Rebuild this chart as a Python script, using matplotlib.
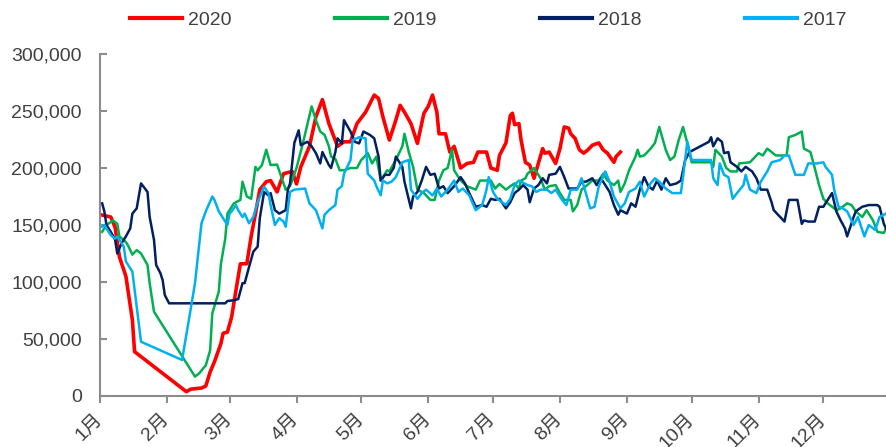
import matplotlib
matplotlib.use("Agg")
import matplotlib.pyplot as plt
from matplotlib.ticker import FuncFormatter

# x = day of year (0 = 1月1日), y = value in thousands
MONTH_LABELS = ["1月", "2月", "3月", "4月", "5月", "6月", "7月", "8月", "9月", "10月", "11月", "12月"]
MONTH_STARTS = [0, 31, 60, 91, 121, 152, 182, 213, 244, 274, 305, 335]

DAYS_2020 = [1, 5, 7, 9, 12, 15, 16, 40, 42, 47, 49, 51, 53, 56, 57, 59, 61, 62, 65, 68, 70, 72, 74, 77, 79, 82, 85, 89,
             91, 93, 97, 100, 103, 106, 108, 110, 113, 116, 119, 123, 127, 129, 131, 134, 137, 139, 141, 144, 147, 150,
             152, 154, 156, 157, 160, 162, 164, 167, 170, 173, 175, 179, 181, 184, 185, 188, 190, 191, 192, 194, 195,
             197, 199, 201, 203, 205, 206, 208, 211, 213, 215, 217, 218, 220, 222, 224, 226, 228, 231, 233, 235, 238,
             239, 241]
VALS_2020 = [158.7, 157, 148, 122, 105, 66.7, 38.9, 3.8, 6, 7, 8.8, 21, 30, 46, 55, 56, 69.6, 81.6, 116, 116, 140, 160,
             181, 188, 189, 179, 195, 197, 186, 201, 219, 245, 260, 239, 229, 219, 223, 223, 239, 249, 264, 261, 245,
             224.5, 242, 255, 249, 239, 221.6, 248, 254, 264, 249, 230, 230, 214, 219, 200, 204, 205, 214, 214, 200,
             198, 211, 222, 246, 248, 238, 239, 224.5, 205, 202.6, 191, 204, 217, 213, 214, 204, 217, 236, 235, 230,
             226, 216, 213, 216, 220, 222, 216, 213, 205, 210, 214]

DAYS_2019 = [1, 3, 6, 8, 9, 12, 13, 15, 17, 19, 22, 23, 25, 44, 46, 49, 51, 52, 55, 56, 58, 59, 62, 65, 66, 68, 70, 72,
             73, 75, 77, 79, 82, 84, 86, 88, 91, 94, 98, 100, 102, 104, 106, 107, 109, 111, 113, 116, 119, 121, 124,
             126, 128, 130, 133, 134, 137, 140, 141, 143, 145, 147, 150, 153, 155, 157, 159, 161, 163, 164, 167, 170,
             174, 176, 179, 181, 183, 185, 188, 190, 192, 194, 195, 197, 198, 201, 202, 204, 206, 208, 211, 213, 215,
             218, 219, 221, 223, 225, 228, 231, 233, 235, 238, 240, 241, 243, 245, 248, 249, 250, 252, 255, 257, 259,
             262, 264, 266, 268, 270, 272, 274, 278, 283, 284, 285, 288, 290, 292, 295, 296, 301, 305, 307, 309, 313,
             318, 319, 322, 325, 326, 329, 331, 333, 335, 337, 340, 341, 343, 346, 348, 350, 353, 355, 358, 360, 363,
             364]
VALS_2019 = [144, 150, 154, 151, 140, 135, 132, 124, 128, 125, 115, 99, 74, 17, 20, 27, 40, 72.5, 91.5, 116, 138, 160,
             169, 172, 188, 175, 173, 201, 198, 202.6, 216, 202.6, 203, 192, 181, 184, 200, 222, 254, 242, 232, 229,
             219, 210, 208, 198, 198, 200, 200, 207, 213, 204, 210, 189, 198, 197, 207, 219, 230, 214, 201, 181, 178,
             172, 172, 189, 198, 200, 216, 198, 189, 184, 181, 189, 189, 189, 182, 186, 181, 184, 186.5, 182, 189,
             191, 195, 200, 197, 191, 181, 184, 185, 178, 172, 172, 162, 167.5, 181, 184, 189, 189, 195, 189, 185,
             189, 179, 186.5, 198, 210, 216, 210, 211, 217, 222, 236, 216, 207, 210, 224.5, 236, 221.6, 205, 205,
             205, 201, 216, 210, 200, 197, 197, 204, 205, 213, 211, 217, 211, 211, 227, 229, 232, 217, 214, 200, 185,
             173, 169, 164.6, 163, 164.6, 169, 167.5, 162, 157, 163, 154, 144, 143, 147]

DAYS_2018 = [1, 2, 3, 5, 7, 8, 10, 12, 14, 15, 17, 19, 22, 23, 25, 26, 28, 29, 30, 32, 58, 59, 62, 64, 66, 67, 69, 71,
             73, 74, 76, 78, 79, 81, 83, 86, 87, 88, 90, 92, 93, 96, 98, 100, 102, 103, 106, 107, 109, 110, 112, 113,
             116, 118, 120, 122, 125, 127, 129, 130, 132, 134, 136, 137, 140, 141, 144, 145, 147, 149, 151, 153, 155,
             157, 159, 161, 164, 167, 169, 171, 174, 177, 179, 181, 183, 185, 188, 190, 192, 194, 196, 198, 199, 201,
             203, 205, 207, 208, 211, 213, 215, 217, 219, 221, 223, 225, 228, 230, 232, 234, 236, 238, 240, 241, 244,
             246, 248, 250, 252, 254, 256, 258, 260, 262, 264, 267, 269, 271, 273, 276, 279, 282, 283, 284, 286, 288,
             289, 291, 292, 295, 297, 299, 302, 304, 306, 309, 311, 312, 315, 317, 319, 323, 325, 326, 328, 331, 333,
             335, 337, 339, 341, 343, 345, 346, 349, 350, 353, 356, 360, 361, 363, 364]
VALS_2018 = [169, 162, 150, 144, 137, 125, 134, 140, 147, 160, 164.6, 186.5, 179, 157, 137, 115, 107.6, 101.7, 88.6,
             81.3, 81.3, 83.3, 84, 85, 99, 99, 113, 126.6, 131, 156, 179, 176, 178, 163, 160, 163, 181, 186.5, 222,
             233, 220, 223, 219, 213, 204, 214, 202.6, 200, 214, 226, 221.6, 242, 232, 223, 221.6, 232, 229, 226, 210,
             189, 194, 194, 200, 210, 201, 188, 164.6, 175, 179, 189, 201, 194, 195, 182, 184, 178, 184, 192, 186.5,
             178, 166, 167.5, 166, 173, 172, 173, 164.6, 170, 178, 181, 185, 181, 170, 182, 185, 191, 186.5, 194, 195,
             201, 192, 182, 182, 182, 188, 188, 191, 185, 191, 185, 179, 167.5, 159, 163, 160, 169, 166, 181, 192,
             184, 181, 189, 181, 191, 185, 186.5, 189, 207, 214, 217, 220, 223, 227, 219, 226, 223, 213, 214, 205,
             201, 197, 201, 197, 191, 181, 181, 170, 163, 157, 153, 172, 172, 151, 154, 153, 153, 166, 166, 172, 178,
             162, 154, 147, 140, 157, 162, 166, 167.5, 167.5, 166, 151, 147]

DAYS_2017 = [1, 2, 5, 7, 8, 11, 12, 15, 17, 19, 38, 41, 44, 47, 49, 52, 53, 55, 56, 59, 60, 61, 63, 64, 66, 67, 69, 71,
             73, 76, 78, 79, 81, 83, 85, 86, 88, 90, 95, 97, 100, 103, 104, 106, 109, 110, 112, 113, 116, 117, 120,
             123, 124, 127, 128, 130, 131, 133, 135, 137, 140, 143, 144, 147, 149, 151, 154, 156, 158, 161, 164, 166,
             168, 171, 174, 177, 179, 180, 182, 184, 188, 190, 192, 194, 198, 200, 202, 204, 207, 209, 211, 214, 216,
             218, 221, 223, 225, 227, 229, 231, 234, 236, 238, 241, 243, 245, 248, 250, 252, 255, 257, 259, 262, 265,
             269, 270, 272, 274, 278, 283, 284, 286, 287, 289, 291, 293, 295, 298, 299, 301, 304, 306, 309, 311, 315,
             317, 319, 322, 326, 328, 332, 335, 336, 339, 340, 342, 344, 346, 349, 351, 354, 356, 359, 361, 364]
VALS_2017 = [148.5, 150, 141, 138, 140, 131, 118, 109, 78, 47.6, 31.6, 65, 99, 151.5, 162, 175, 172, 162, 159, 150,
             160, 162, 167.5, 163, 157, 160, 151.5, 157, 170, 183.6, 178, 167.5, 150, 156, 153, 148.5, 179, 181, 182,
             169, 163, 147, 159, 163, 167.5, 181, 184, 195, 207, 224.5, 227, 226, 195, 189, 184, 176, 189, 186.5, 188,
             192, 205, 207, 181, 173, 178, 181, 176, 182, 175, 181, 189, 179, 182, 176, 163, 167.5, 181, 192, 179,
             173, 167.5, 173, 185, 189, 185, 184, 179, 181, 181, 178, 181, 172, 167.5, 181, 181, 191, 178, 164.6, 166,
             184, 197, 188, 175, 164.6, 169, 179, 182, 188, 175, 186.5, 191, 188, 182, 178, 178, 192, 223, 207, 207,
             207, 191, 185, 204, 194, 192, 173, 178, 185, 194, 181, 178, 188, 197, 205, 207, 211, 211, 194, 194, 204,
             204, 205, 201, 194, 181, 166, 164.6, 162, 150, 157, 140, 150, 145.6, 157, 160]

SERIES = [
    ("2020", DAYS_2020, VALS_2020, "#FF0000", 2.6),
    ("2019", DAYS_2019, VALS_2019, "#00B050", 1.8),
    ("2018", DAYS_2018, VALS_2018, "#002060", 1.8),
    ("2017", DAYS_2017, VALS_2017, "#00B0F0", 1.8),
]

plt.rcParams['font.family'] = ['Liberation Sans', 'Noto Sans CJK SC', 'DejaVu Sans']
TEXT_COLOR = "#404040"
AXIS_COLOR = "#8C8C8C"

fig = plt.figure(figsize=(8.86, 4.47), dpi=100)
ax = fig.add_axes([100 / 886, 1 - 396 / 447, 1 - 100 / 886, (396 - 54) / 447])

for name, days, vals, color, lw in SERIES:
    ax.plot(days, [v * 1000 for v in vals], color=color, lw=lw, label=name, solid_joinstyle="round")

ax.set_xlim(0, 364)
ax.set_ylim(0, 300000)
ax.set_yticks(range(0, 300001, 50000))
ax.yaxis.set_major_formatter(FuncFormatter(lambda v, p: f"{int(v):,}"))
ax.set_xticks(MONTH_STARTS)
ax.set_xticklabels(MONTH_LABELS, rotation=45, ha="right", va="center", rotation_mode="anchor")

for s in ("top", "right"):
    ax.spines[s].set_visible(False)
for s in ("left", "bottom"):
    ax.spines[s].set_color(AXIS_COLOR)
    ax.spines[s].set_linewidth(1.5)

ax.tick_params(axis="y", direction="in", length=5, width=1.5, color=AXIS_COLOR,
               labelsize=14, labelcolor=TEXT_COLOR, pad=13)
ax.tick_params(axis="x", direction="out", length=5, width=1.5, color=AXIS_COLOR,
               labelsize=14, labelcolor=TEXT_COLOR, pad=10)

fig.legend(loc="center", bbox_to_anchor=(0.551, 0.955), ncol=4, frameon=False,
           fontsize=14, handlelength=2.7, handletextpad=0.3, columnspacing=5.3,
           labelcolor=TEXT_COLOR)
for line in fig.legends[0].get_lines():
    line.set_linewidth(3)

fig.savefig("out.png", dpi=100)
